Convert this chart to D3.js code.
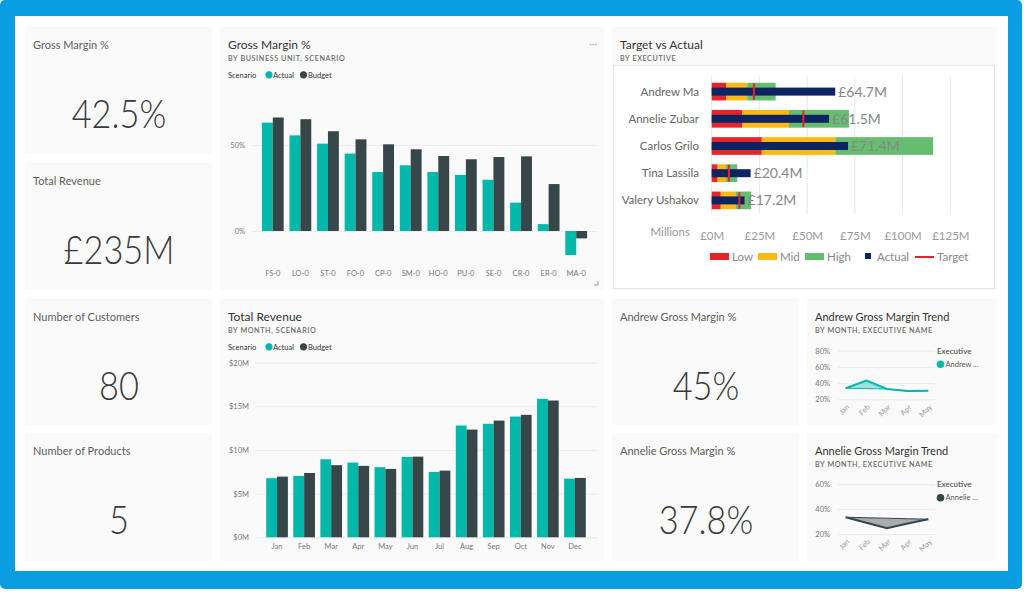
<!DOCTYPE html>
<html><head><meta charset="utf-8">
<script src="https://cdn.jsdelivr.net/npm/d3@7"></script>
<style>
body{margin:0;background:#fff;}
svg{display:block;}
text{font-family:"Segoe UI",Lato,"Noto Sans",sans-serif;}
</style>
</head><body>
<svg id="c" width="1024" height="603"></svg>
<script>
// ---------- DATA ----------
const kpiLabels = ["Gross Margin %","Total Revenue","Number of Customers","Number of Products","Andrew Gross Margin %","Annelie Gross Margin %"];
const kpiValues = ["42.5%","£235M","80","5","45%","37.8%"];

const seriesNames = ["Actual","Budget"];
const gmUnits = ["FS-0","LO-0","ST-0","FO-0","CP-0","SM-0","HO-0","PU-0","SE-0","CR-0","ER-0","MA-0"];
const gmActual = [0.63,0.556,0.508,0.45,0.343,0.382,0.343,0.326,0.298,0.165,0.04,-0.14];
const gmBudget = [0.66,0.65,0.58,0.533,0.504,0.475,0.436,0.417,0.43,0.434,0.273,-0.043];
const gmTicks = [0,0.5];

const months = ["Jan","Feb","Mar","Apr","May","Jun","Jul","Aug","Sep","Oct","Nov","Dec"];
const revActual = [6.77,7.03,8.94,8.56,8.03,9.21,7.49,12.8,13.0,13.83,15.86,6.72];
const revBudget = [6.95,7.37,8.26,8.18,7.83,9.24,7.64,12.34,13.37,14.03,15.67,6.8];
const revTicks = [0,5,10,15,20];

const executives = ["Andrew Ma","Annelie Zubar","Carlos Grilo","Tina Lassila","Valery Ushakov"];
const bandLow  = [7.5,16,26.2,3,4.7];
const bandMid  = [18.6,40.5,64.7,7.5,12.4];
const bandHigh = [33.5,71.9,116,13.4,20.7];
const actualRev = [64.7,61.5,71.4,20.4,17.2];
const targetRev = [22.1,48,null,9,14.5];
const tvaTicks = [0,25,50,75,100,125];
const tvaLegend = ["Low","Mid","High","Actual","Target"];

const trendMonths = ["Jan","Feb","Mar","Apr","May"];
const andrewGM  = [0.336,0.43,0.327,0.302,0.306];
const andrewRef = [0.336,0.332,0.327,0.302,0.306];
const andrewTicks = [0.2,0.4,0.6,0.8];
const annelieGM  = [0.335,0.29,0.246,0.284,0.319];
const annelieRef = [0.335,0.331,0.327,0.323,0.319];
const annelieTicks = [0.2,0.4,0.6];

// ---------- STYLE ----------
const TEAL="#01B8AA", DARK="#374649";
const C_LOW="#e8242b", C_MID="#fdb913", C_HIGH="#66bd6f", C_ACT="#0c2461", C_TGT="#e8242b";

const svg = d3.select("#c");
svg.append("rect").attr("x",0).attr("y",0).attr("width",1022).attr("height",589).attr("rx",5).attr("fill","#0a9de0");
svg.append("rect").attr("x",15).attr("y",16).attr("width",993).attr("height",555).attr("fill","#ffffff");

const cards = [
 {x:25,y:27,w:187,h:127},{x:25,y:163,w:187,h:127},{x:25,y:299,w:187,h:126},{x:25,y:433,w:187,h:128},
 {x:220,y:27,w:384,h:263},{x:612,y:27,w:385,h:263},{x:220,y:299,w:384,h:262},
 {x:612,y:299,w:187,h:126},{x:612,y:433,w:187,h:128},{x:807,y:299,w:190,h:126},{x:807,y:433,w:190,h:128}
];
svg.selectAll("rect.card").data(cards).join("rect").attr("class","card")
 .attr("x",d=>d.x).attr("y",d=>d.y).attr("width",d=>d.w).attr("height",d=>d.h).attr("fill","#fafafa");

// ---------- KPI CARDS ----------
const kpiCards = [cards[0],cards[1],cards[2],cards[3],cards[7],cards[8]];
kpiCards.forEach((c,i)=>{
  svg.append("text").attr("x",c.x+8).attr("y",c.y+22).attr("font-size",11).attr("fill","#605e5c").text(kpiLabels[i]);
  svg.append("text").attr("transform",`translate(${c.x+c.w/2+0.5},${c.y+101}) scale(0.86,1)`)
    .attr("text-anchor","middle").attr("font-family","Roboto").attr("font-weight",300)
    .attr("font-size",40).attr("fill","#3a3a3a").text(kpiValues[i]);
});

function header(x,y,title,sub,tsize){
  svg.append("text").attr("x",x).attr("y",y).attr("font-size",tsize||12).attr("fill","#333").text(title);
  svg.append("text").attr("x",x).attr("y",y+12).attr("font-size",7.2).attr("font-weight",600)
    .attr("letter-spacing",0.6).attr("fill","#6a6a6a").text(sub);
}
function scenarioLegend(x,y){
  const g=svg.append("g");
  g.append("text").attr("x",x).attr("y",y).attr("font-size",7.5).attr("fill","#333").text("Scenario");
  g.append("circle").attr("cx",x+41).attr("cy",y-2.7).attr("r",3.6).attr("fill",TEAL);
  g.append("text").attr("x",x+45).attr("y",y).attr("font-size",7.5).attr("fill","#333").text(seriesNames[0]);
  g.append("circle").attr("cx",x+75.5).attr("cy",y-2.7).attr("r",3.6).attr("fill",DARK);
  g.append("text").attr("x",x+80).attr("y",y).attr("font-size",7.5).attr("fill","#333").text(seriesNames[1]);
}
function styleAxis(g,size,color){
  g.select(".domain").remove();
  g.selectAll(".tick line").attr("stroke","#ececec");
  g.selectAll(".tick text").attr("font-size",size).attr("fill",color).attr("font-family",null);
}

// ---------- GROSS MARGIN BY BU ----------
header(228,49,"Gross Margin %","BY BUSINESS UNIT, SCENARIO");
scenarioLegend(228,77.5);
svg.append("text").attr("x",597).attr("y",47).attr("text-anchor","end").attr("font-size",10).attr("fill","#aaa").text("···");
svg.append("path").attr("d","M594,285 H598 V281").attr("stroke","#999").attr("fill","none").attr("stroke-width",1);
{
  const x = d3.scaleBand().domain(gmUnits).range([259,590]).paddingInner(0.21).paddingOuter(0.105);
  const x1 = d3.scaleBand().domain(seriesNames).range([0,x.bandwidth()]);
  const y = d3.scaleLinear().domain([0,0.5]).range([231,145]);
  const ga = svg.append("g").attr("transform","translate(252,0)")
    .call(d3.axisLeft(y).tickValues(gmTicks).tickFormat(d3.format(".0%")).tickSize(-345).tickPadding(7));
  styleAxis(ga,7.5,"#777");
  const data = gmUnits.map((u,i)=>({u,vals:[gmActual[i],gmBudget[i]]}));
  const gg = svg.append("g");
  data.forEach(d=>{
    d.vals.forEach((v,j)=>{
      gg.append("rect").attr("x",x(d.u)+x1(seriesNames[j])).attr("width",x1.bandwidth())
        .attr("y",y(Math.max(0,v))).attr("height",Math.abs(y(v)-y(0))).attr("fill",j?DARK:TEAL);
    });
  });
  const gx = svg.append("g").attr("transform","translate(0,266)").call(d3.axisBottom(x).tickSize(0).tickPadding(5));
  styleAxis(gx,7.5,"#777");
}

// ---------- TOTAL REVENUE BY MONTH ----------
header(228,320.5,"Total Revenue","BY MONTH, SCENARIO");
scenarioLegend(228,349.5);
{
  const x = d3.scaleBand().domain(months).range([263.5,588.5]).paddingInner(0.2).paddingOuter(0.1);
  const x1 = d3.scaleBand().domain(seriesNames).range([0,x.bandwidth()]);
  const y = d3.scaleLinear().domain([0,20]).range([537.3,362.7]);
  const ga = svg.append("g").attr("transform","translate(255,0)")
    .call(d3.axisLeft(y).tickValues(revTicks).tickFormat(d=>"$"+d+"M").tickSize(-342).tickPadding(6));
  styleAxis(ga,7.5,"#777");
  months.forEach((m,i)=>{
    [revActual[i],revBudget[i]].forEach((v,j)=>{
      svg.append("rect").attr("x",x(m)+x1(seriesNames[j])).attr("width",x1.bandwidth())
        .attr("y",y(v)).attr("height",y(0)-y(v)).attr("fill",j?DARK:TEAL);
    });
  });
  const gx = svg.append("g").attr("transform","translate(0,539)").call(d3.axisBottom(x).tickSize(0).tickPadding(5));
  styleAxis(gx,7.5,"#777");
}

// ---------- TARGET VS ACTUAL ----------
header(620,49,"Target vs Actual","BY EXECUTIVE");
svg.append("rect").attr("x",613.5).attr("y",65.5).attr("width",381).attr("height",223).attr("fill","#fff").attr("stroke","#e6e6e6");
{
  const x = d3.scaleLinear().domain([0,125]).range([711.7,950.3]);
  const y = d3.scaleBand().domain(executives).range([78,214]);
  svg.append("g").selectAll("line").data(tvaTicks).join("line")
    .attr("x1",d=>x(d)).attr("x2",d=>x(d)).attr("y1",76).attr("y2",214).attr("stroke","#e8e8e8");
  const bh=17.7, ah=8;
  executives.forEach((e,i)=>{
    const cy = y(e)+y.bandwidth()/2;
    svg.append("rect").attr("x",x(bandMid[i])).attr("width",x(bandHigh[i])-x(bandMid[i])).attr("y",cy-bh/2).attr("height",bh).attr("fill",C_HIGH);
    svg.append("rect").attr("x",x(bandLow[i])).attr("width",x(bandMid[i])-x(bandLow[i])).attr("y",cy-bh/2).attr("height",bh).attr("fill",C_MID);
    svg.append("rect").attr("x",x(0)).attr("width",x(bandLow[i])-x(0)).attr("y",cy-bh/2).attr("height",bh).attr("fill",C_LOW);
    svg.append("rect").attr("x",x(0)).attr("width",x(actualRev[i])-x(0)).attr("y",cy-ah/2).attr("height",ah).attr("fill",C_ACT);
    if(targetRev[i]!=null)
      svg.append("rect").attr("x",x(targetRev[i])-1).attr("width",2).attr("y",cy-bh/2+0.5).attr("height",bh-1).attr("fill",C_TGT);
    svg.append("text").attr("x",x(actualRev[i])+3).attr("y",cy+5).attr("font-size",14).attr("fill","#888")
      .text("£"+actualRev[i].toFixed(1)+"M");
    svg.append("text").attr("x",699).attr("y",cy+4).attr("text-anchor","end").attr("font-size",11.5).attr("fill","#666").text(e);
  });
  const gx = svg.append("g").attr("transform","translate(0,224)")
    .call(d3.axisBottom(x).tickValues(tvaTicks).tickFormat(d=>"£"+d+"M").tickSize(0).tickPadding(8));
  styleAxis(gx,11.5,"#999");
  svg.append("text").attr("x",690).attr("y",236).attr("text-anchor","end").attr("font-size",11.5).attr("fill","#999").text("Millions");
  // legend
  const lg = svg.append("g");
  const lx=[710,758,805,865,915];
  tvaLegend.forEach((t,i)=>{
    if(i<3) lg.append("rect").attr("x",lx[i]).attr("y",253).attr("width",19).attr("height",7).attr("fill",[C_LOW,C_MID,C_HIGH][i]);
    else if(i===3) lg.append("rect").attr("x",lx[i]).attr("y",253).attr("width",6).attr("height",6).attr("fill",C_ACT);
    else lg.append("rect").attr("x",lx[i]).attr("y",256).attr("width",19).attr("height",2).attr("fill",C_TGT);
    lg.append("text").attr("x",i===3?lx[i]+12:lx[i]+22).attr("y",260.5).attr("font-size",11.5).attr("fill","#888").text(t);
  });
}

// ---------- TREND CHARTS ----------
function trend(top,title,vals,ref,ticks,yTop,yBot,color,fill,legendName){
  header(815,top+21.5,title,"BY MONTH, EXECUTIVE NAME",11);
  const x = d3.scalePoint().domain(trendMonths).range([845.7,928.3]);
  const y = d3.scaleLinear().domain([ticks[0],ticks[ticks.length-1]]).range([yBot,yTop]);
  const ga = svg.append("g").attr("transform","translate(838,0)")
    .call(d3.axisLeft(y).tickValues(ticks).tickFormat(d3.format(".0%")).tickSize(-97).tickPadding(8));
  styleAxis(ga,7.5,"#777");
  const pts = trendMonths.map((m,i)=>({m,v:vals[i],r:ref[i]}));
  svg.append("path").datum(pts).attr("fill",fill)
    .attr("d",d3.area().x(d=>x(d.m)).y0(d=>y(d.r)).y1(d=>y(d.v)));
  svg.append("path").datum(pts).attr("fill","none").attr("stroke",color).attr("stroke-width",1)
    .attr("d",d3.line().x(d=>x(d.m)).y(d=>y(d.r)));
  svg.append("path").datum(pts).attr("fill","none").attr("stroke",color).attr("stroke-width",2)
    .attr("d",d3.line().x(d=>x(d.m)).y(d=>y(d.v)));
  trendMonths.forEach(m=>{
    svg.append("text").attr("transform",`translate(${x(m)+1},${yBot+5}) rotate(-45)`)
      .attr("text-anchor","end").attr("dy","0.6em").attr("font-size",7.5).attr("fill","#999").text(m);
  });
  svg.append("text").attr("x",937).attr("y",yTop+3).attr("font-size",8).attr("font-weight",600).attr("fill","#555").text("Executive");
  svg.append("circle").attr("cx",940.5).attr("cy",yTop+13.5).attr("r",3.8).attr("fill",color);
  svg.append("text").attr("x",945.5).attr("y",yTop+16).attr("font-size",7.5).attr("fill","#555").text(legendName);
}
trend(299,"Andrew Gross Margin Trend",andrewGM,andrewRef,andrewTicks,350.7,399.3,TEAL,"rgba(1,184,170,0.35)","Andrew ...");
trend(433,"Annelie Gross Margin Trend",annelieGM,annelieRef,annelieTicks,484.3,534,DARK,"#a9abac","Annelie ...");
</script>
</body></html>
